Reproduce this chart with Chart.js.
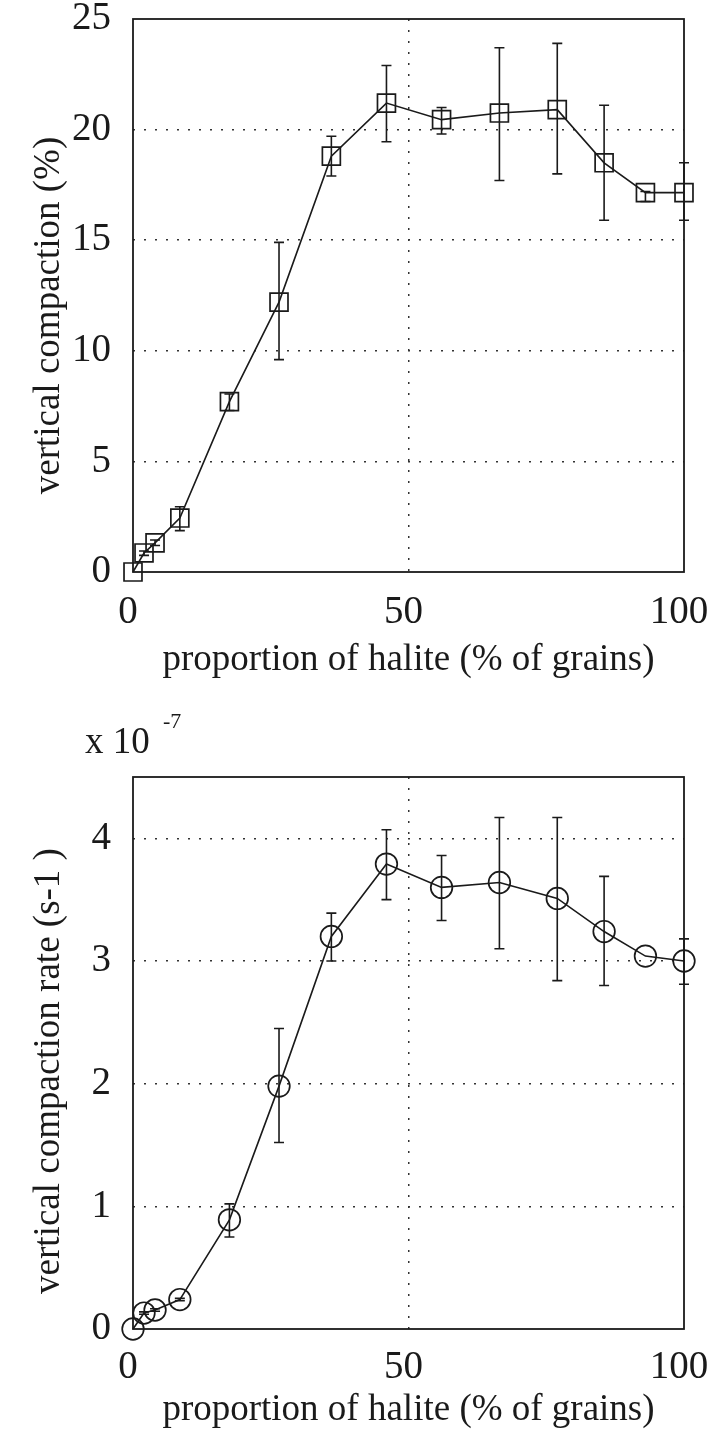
<!DOCTYPE html>
<html>
<head>
<meta charset="utf-8">
<script src="https://cdn.jsdelivr.net/npm/chart.js@4"></script>
<style>
  body { margin: 0; background: #fff; }
  .wrap { position: relative; width: 719px; height: 1436px; }
  #compactionChart { position: absolute; left: 0; top: 0; }
  #rateChart { position: absolute; left: 0; top: 700px; }
</style>
</head>
<body>
<div class="wrap">
  <canvas id="compactionChart" width="719" height="700"></canvas>
  <canvas id="rateChart" width="719" height="736"></canvas>
</div>
<script>
// proportion of halite (% of grains)
const halite = [0, 2, 4, 8.5, 17.5, 26.5, 36, 46, 56, 66.5, 77, 85.5, 93, 100];

// vertical compaction (%) and its error bars
const compaction   = [0, 0.86, 1.32, 2.44, 7.7, 12.2, 18.8, 21.2, 20.45, 20.75, 20.9, 18.5, 17.15, 17.15];
const compactionLo = [null, 0.75, 1.2, 1.87, 7.3, 9.6, 17.9, 19.45, 19.8, 17.7, 18.0, 15.9, 16.75, 15.9];
const compactionHi = [null, 0.95, 1.45, 2.95, 8.05, 14.9, 19.7, 22.9, 21.0, 23.7, 23.9, 21.1, 17.2, 18.5];

// vertical compaction rate (x 10^-7 s-1) and its error bars
const rate   = [0, 0.13, 0.155, 0.24, 0.89, 1.98, 3.2, 3.79, 3.6, 3.64, 3.51, 3.24, 3.04, 3.0];
const rateLo = [null, 0.12, 0.145, 0.23, 0.75, 1.52, 3.0, 3.5, 3.33, 3.1, 2.84, 2.8, null, 2.81];
const rateHi = [null, 0.14, 0.165, 0.25, 1.02, 2.45, 3.39, 4.07, 3.86, 4.17, 4.17, 3.69, null, 3.18];

// tick labels
const xTicks = [0, 50, 100];
const compactionTicks = [0, 5, 10, 15, 20, 25];
const rateTicks = [0, 1, 2, 3, 4];

const ink = '#1a1a1a';
const serif = '"Liberation Serif", "Times New Roman", serif';
const tickFont = { family: serif, size: 39 };
const titleFont = { family: serif, size: 37 };

// error bars drawn through the chart scales
const errorBars = {
  id: 'errorBars',
  afterDatasetsDraw(chart, args, opts) {
    const { ctx, scales: { x, y } } = chart;
    ctx.save();
    ctx.strokeStyle = ink;
    ctx.lineWidth = 1.6;
    opts.lo.forEach((lo, i) => {
      if (lo == null) return;
      const px = x.getPixelForValue(halite[i]);
      const p1 = y.getPixelForValue(lo);
      const p2 = y.getPixelForValue(opts.hi[i]);
      ctx.beginPath();
      ctx.moveTo(px, p1); ctx.lineTo(px, p2);
      ctx.moveTo(px - 5, p1); ctx.lineTo(px + 5, p1);
      ctx.moveTo(px - 5, p2); ctx.lineTo(px + 5, p2);
      ctx.stroke();
    });
    ctx.restore();
  }
};

// full box round the plot area
const frame = {
  id: 'frame',
  beforeDatasetsDraw(chart) {
    const { ctx, chartArea: a } = chart;
    ctx.save();
    ctx.strokeStyle = ink;
    ctx.lineWidth = 1.8;
    ctx.strokeRect(a.left, a.top, a.right - a.left, a.bottom - a.top);
    ctx.restore();
  }
};

// rotated y title, sitting a little below the middle of the axis like the original
const yTitle = {
  id: 'yTitle',
  afterDraw(chart, args, opts) {
    const { ctx, chartArea: a } = chart;
    ctx.save();
    ctx.fillStyle = ink;
    ctx.font = titleFont.size + 'px ' + serif;
    ctx.textAlign = 'center';
    ctx.textBaseline = 'middle';
    ctx.translate(49, (a.top + a.bottom) / 2 + opts.shift);
    ctx.rotate(-Math.PI / 2);
    ctx.fillText(opts.text, 0, 0);
    ctx.restore();
  }
};

// "x 10^-7" multiplier above the rate axis
const multiplier = {
  id: 'multiplier',
  afterDraw(chart) {
    const { ctx, chartArea: a } = chart;
    ctx.save();
    ctx.fillStyle = ink;
    ctx.textBaseline = 'alphabetic';
    ctx.font = '37px ' + serif;
    ctx.fillText('x 10', a.left - 48, 53);
    ctx.font = '22px ' + serif;
    ctx.fillText('-7', a.left + 30, 28);
    ctx.restore();
  }
};

function gridColor(edges) {
  return c => (c.tick && edges.includes(c.tick.value)) ? 'rgba(0,0,0,0)' : '#333';
}

function makeChart(id, values, lo, hi, yTicks, yMax, title, titleShift, pointStyle, radius, axisH, tickPad, xTitlePad, padTop, extra) {
  return new Chart(document.getElementById(id), {
    type: 'line',
    data: {
      datasets: [{
        data: halite.map((h, i) => ({ x: h, y: values[i] })),
        borderColor: ink,
        borderWidth: 1.6,
        pointStyle: pointStyle,
        pointRadius: radius,
        pointBorderWidth: 1.7,
        pointBorderColor: ink,
        pointBackgroundColor: 'rgba(0,0,0,0)',
        tension: 0,
        clip: false
      }]
    },
    options: {
      responsive: false,
      animation: false,
      layout: { padding: { top: padTop, left: 0, right: 35, bottom: 0 } },
      plugins: {
        legend: { display: false },
        tooltip: { enabled: false },
        errorBars: { lo: lo, hi: hi },
        yTitle: { text: title, shift: titleShift }
      },
      scales: {
        x: {
          type: 'linear',
          min: 0,
          max: 100,
          afterBuildTicks: s => { s.ticks = xTicks.map(v => ({ value: v })); },
          afterFit: s => { s.height = axisH; s.paddingLeft = 0; s.paddingRight = 0; },
          grid: { drawTicks: false, color: gridColor([0, 100]), lineWidth: 1.5 },
          border: { display: false, dash: [2, 9] },
          ticks: { padding: tickPad, labelOffset: -5, color: ink, font: tickFont, maxRotation: 0 },
          title: {
            display: true,
            text: 'proportion of halite (% of grains)',
            color: ink,
            font: titleFont,
            padding: { top: 0, bottom: xTitlePad }
          }
        },
        y: {
          min: 0,
          max: yMax,
          afterBuildTicks: s => { s.ticks = yTicks.map(v => ({ value: v })); },
          afterFit: s => { s.width = 133; s.paddingTop = 0; s.paddingBottom = 0; },
          grid: { drawTicks: false, color: gridColor([0, yMax]), lineWidth: 1.5 },
          border: { display: false, dash: [2, 9] },
          ticks: { padding: 22, color: ink, font: tickFont }
        }
      }
    },
    plugins: [frame, errorBars, yTitle].concat(extra)
  });
}

makeChart('compactionChart', compaction, compactionLo, compactionHi, compactionTicks, 25,
  'vertical compaction (%)', 20, 'rect', 12.7, 128, 17, 18, 19, []);

makeChart('rateChart', rate, rateLo, rateHi, rateTicks, 4.5,
  'vertical compaction rate (s-1 )', 18, 'circle', 10.8, 107, 15, 4, 77, [multiplier]);
</script>
</body>
</html>
